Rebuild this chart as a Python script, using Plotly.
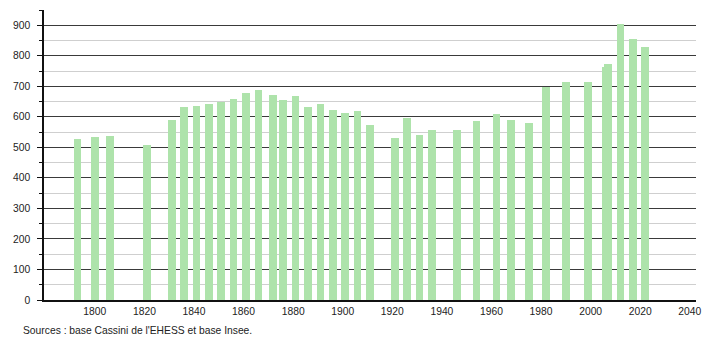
import plotly.graph_objects as go

years = [1793, 1800, 1806, 1821, 1831, 1836, 1841, 1846, 1851, 1856, 1861, 1866,
         1872, 1876, 1881, 1886, 1891, 1896, 1901, 1906, 1911, 1921, 1926, 1931,
         1936, 1946, 1954, 1962, 1968, 1975, 1982, 1990, 1999, 2006, 2007, 2012,
         2017, 2022]
population = [528, 533, 536, 509, 591, 633, 634, 643, 649, 657, 677, 687,
              673, 655, 667, 633, 641, 624, 611, 618, 572, 532, 595, 540,
              558, 558, 585, 608, 591, 580, 699, 713, 713, 763, 772, 903,
              856, 828]
x_ticks = [1800, 1820, 1840, 1860, 1880, 1900, 1920, 1940, 1960, 1980, 2000, 2020, 2040]
y_ticks = [0, 100, 200, 300, 400, 500, 600, 700, 800, 900]
source_text = "Sources : base Cassini de l'EHESS et base Insee."

fig = go.Figure()
fig.add_trace(go.Bar(
    x=years, y=population, width=3.1,
    marker=dict(color="#aee3ab", line=dict(width=0)),
    hoverinfo="x+y",
))

L, R, T, B = 44, 9, 10, 40
W, H = 710, 340
pw, ph = W - L - R, H - T - B

fig.update_layout(
    width=W, height=H,
    margin=dict(l=L, r=R, t=T, b=B, pad=0),
    paper_bgcolor="white", plot_bgcolor="white",
    showlegend=False,
    font=dict(family="Liberation Sans, Arial, sans-serif", size=10.3, color="#222"),
    bargap=0,
    xaxis=dict(
        range=[1779.5, 2042.5],
        tickmode="array", tickvals=x_ticks,
        showgrid=False, zeroline=False,
        showline=True, linecolor="#111", linewidth=1.5,
        ticks="", ticklabelstandoff=1,
        tickfont=dict(size=10.3, color="#222"),
    ),
    yaxis=dict(
        range=[0, 950],
        tickmode="array", tickvals=y_ticks,
        showgrid=True, gridcolor="#3a3a3a", gridwidth=1,
        zeroline=False,
        showline=True, linecolor="#111", linewidth=1.5,
        ticks="outside", ticklen=5, tickcolor="#111", tickwidth=1,
        minor=dict(dtick=50, tick0=0, ticks="outside", ticklen=3, tickcolor="#111",
                   showgrid=True, gridcolor="#cfcfcf", gridwidth=1),
        tickfont=dict(size=10.3, color="#222"),
        ticklabelstandoff=5,
    ),
    annotations=[dict(
        text=source_text, xref="paper", yref="paper",
        x=(21 - L) / pw, y=-(330 - (T + ph)) / ph,
        xanchor="left", yanchor="middle", showarrow=False,
        font=dict(size=10.3, color="#222"),
    )],
)

fig.write_html("out.html")
